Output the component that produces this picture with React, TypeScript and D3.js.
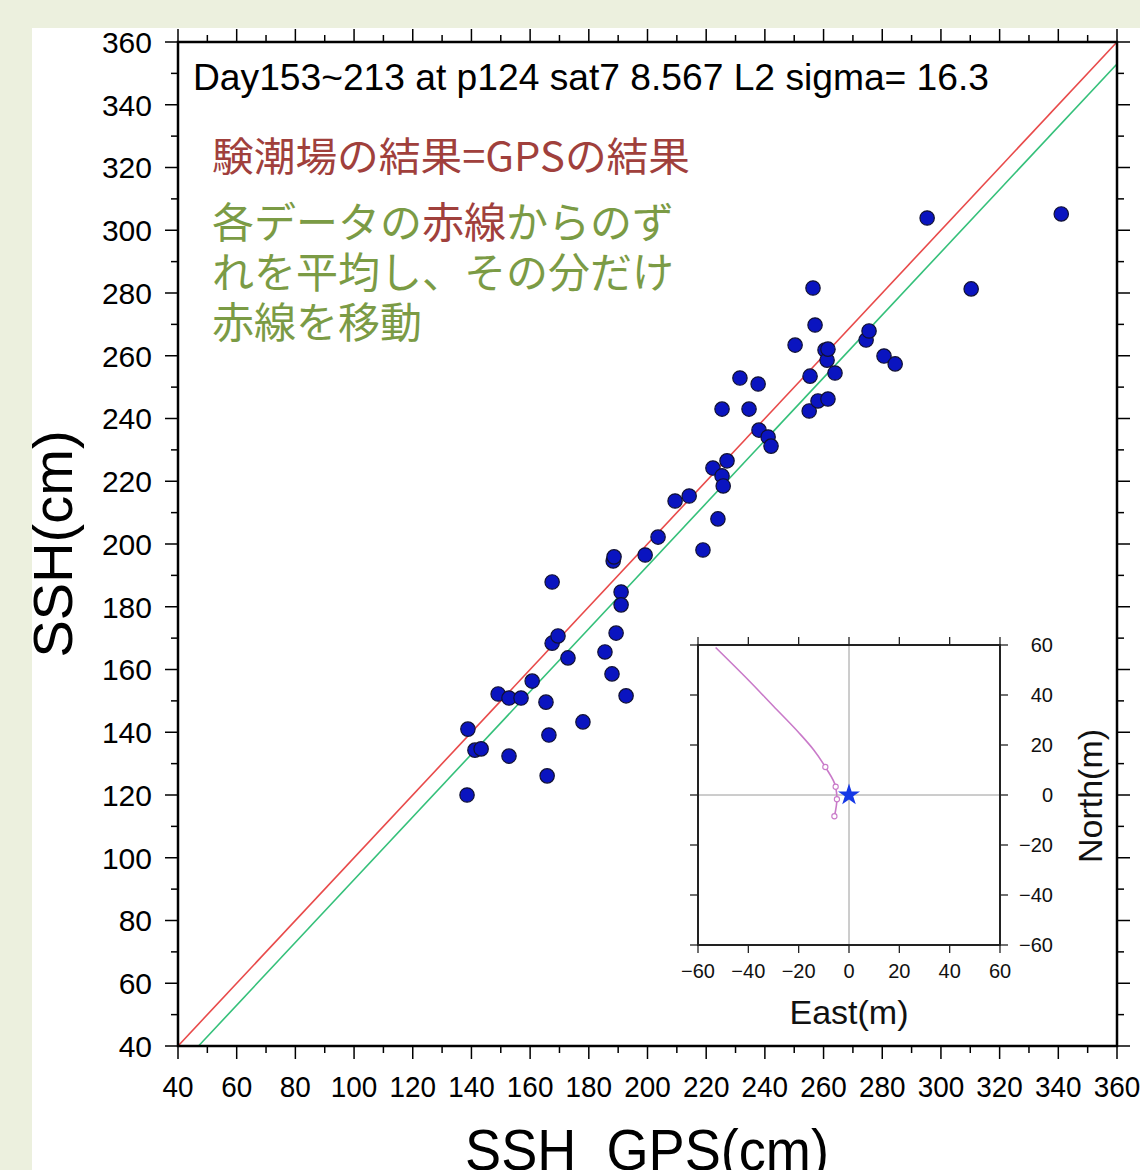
import React from 'react';
import * as d3 from 'd3';

// SSH from GPS (x) against SSH from the tide gauge (y), both in cm
const gpsSSH = [
  138.8, 138.5, 141.2, 143.3, 149.1, 152.8, 156.9, 152.8, 160.7, 165.4,
  166.4, 165.8, 167.5, 167.5, 169.5, 172.9, 178.0, 185.5, 187.9, 189.3,
  188.3, 188.6, 191.0, 191.0, 192.7, 199.2, 203.6, 209.4, 214.2, 218.9,
  222.3, 224.0, 225.4, 225.4, 225.8, 227.1, 231.5, 234.6, 237.7, 238.0,
  241.1, 242.1, 250.3, 255.4, 255.1, 256.4, 257.1, 258.1, 260.5, 261.2,
  261.5, 261.5, 263.9, 274.5, 275.5, 280.6, 284.4, 295.3, 310.3, 341.0,
];
const tideSSH = [
  141.0, 120.0, 134.3, 134.7, 152.2, 150.9, 150.9, 132.4, 156.3, 149.6,
  139.1, 126.1, 187.9, 168.4, 170.7, 163.7, 143.3, 165.6, 158.6, 171.6,
  194.6, 195.9, 184.7, 180.6, 151.6, 196.5, 202.2, 213.7, 215.3, 198.1,
  224.2, 208.0, 243.0, 221.7, 218.5, 226.5, 252.9, 243.0, 251.0, 236.3,
  234.1, 231.2, 263.4, 253.5, 242.4, 281.6, 269.8, 245.6, 261.8, 258.6,
  246.2, 262.1, 254.5, 265.0, 267.9, 259.9, 257.4, 303.9, 281.3, 305.2,
];
const meanOffset = -7; // green line: red 1:1 line shifted by the mean residual

// inset: GPS buoy track relative to the station (m)
const trackEast = [-53, -40, -30, -20, -14, -9.4, -5.3, -4.8, -5.8];
const trackNorth = [59, 46, 35.5, 25, 18, 11.2, 3.3, -1.7, -8.5];
const markedFrom = 5; // open circles on the last samples

const mainTicks = d3.range(40, 361, 20);
const mainMinor = d3.range(40, 361, 10);
const insetTicks = [-60, -40, -20, 0, 20, 40, 60];

const titleText = 'Day153~213 at p124 sat7 8.567 L2 sigma= 16.3';
const redNote = '験潮場の結果=GPSの結果';
const greenLines = [
  [['各データの', 'g'], ['赤線', 'r'], ['からのず', 'g']],
  [['れを平均し、その分だけ', 'g']],
  [['赤線を移動', 'g']],
];

const W = 1140;
const H = 1170;
const font = '"Liberation Sans", Arial, Helvetica, sans-serif';
const jpFont = '"Noto Sans CJK JP", "Noto Sans", sans-serif';
const RED = '#a0403c';
const GREEN = '#7b9b45';

export default function App() {
  const x = d3.scaleLinear().domain([40, 360]).range([178, 1117]);
  const y = d3.scaleLinear().domain([40, 360]).range([1046, 42]);

  const ix = d3.scaleLinear().domain([-60, 60]).range([698, 1000]);
  const iy = d3.scaleLinear().domain([-60, 60]).range([945, 645]);

  const track = d3.line<number>()
    .x((_, i) => ix(trackEast[i]))
    .y((_, i) => iy(trackNorth[i]))
    .curve(d3.curveMonotoneY);

  const star = d3.symbol().type(d3.symbolStar).size(150)();

  const greenStart = 40 - meanOffset;

  return (
    <svg width={W} height={H} style={{ position: 'absolute', left: 0, top: 0, display: 'block' }}>
      <rect x={0} y={0} width={W} height={H} fill="#ecf0de" />
      <rect x={32} y={28} width={W - 32} height={H - 28} fill="#ffffff" />

      {/* 1:1 line and shifted line */}
      <line x1={x(40)} y1={y(40)} x2={x(360)} y2={y(360)} stroke="#e84a4a" strokeWidth={1.6} />
      <line x1={x(greenStart)} y1={y(40)} x2={x(360)} y2={y(360 + meanOffset)} stroke="#34c07a" strokeWidth={1.6} />

      {/* points */}
      {gpsSSH.map((g, i) => (
        <circle key={i} cx={x(g)} cy={y(tideSSH[i])} r={7.2} fill="#0a14c0" stroke="#111133" strokeWidth={1.2} />
      ))}

      {/* frame */}
      <rect x={x(40)} y={y(360)} width={x(360) - x(40)} height={y(40) - y(360)} fill="none" stroke="#000" strokeWidth={2.5} />

      {/* ticks */}
      {mainMinor.map(v => {
        const major = v % 20 === 0;
        const len = major ? 13 : 7;
        return (
          <g key={v} stroke="#000" strokeWidth={1.5}>
            <line x1={x(40)} x2={x(40) - len} y1={y(v)} y2={y(v)} />
            <line x1={x(360)} x2={x(360) + len} y1={y(v)} y2={y(v)} />
            <line x1={x(v)} x2={x(v)} y1={y(40)} y2={y(40) + len} />
            <line x1={x(v)} x2={x(v)} y1={y(360)} y2={y(360) - len} />
          </g>
        );
      })}
      {mainTicks.map(v => (
        <text key={'y' + v} x={152} y={y(v)} dy="0.36em" textAnchor="end" fontFamily={font} fontSize={30} fill="#000">{v}</text>
      ))}
      {mainTicks.map(v => (
        <text key={'x' + v} x={x(v)} y={1097} textAnchor="middle" fontFamily={font} fontSize={30} fill="#000"
          transform={`translate(${x(v)},0) scale(0.93,1) translate(${-x(v)},0)`}>{v}</text>
      ))}

      <text x={647} y={1170} textAnchor="middle" fontFamily={font} fontSize={57} fill="#000"
        transform="translate(647,0) scale(0.95,1) translate(-647,0)">{'SSH\u00a0\u00a0GPS(cm)'}</text>
      <text transform="translate(72,544) rotate(-90)" textAnchor="middle" fontFamily={font} fontSize={56} fill="#000">SSH(cm)</text>

      {/* annotations */}
      <text x={193} y={90} fontFamily={font} fontSize={36} fill="#000" textLength={796} lengthAdjust="spacingAndGlyphs">{titleText}</text>
      <text x={212} y={171} fontFamily={jpFont} fontSize={40} fill={RED} textLength={478} lengthAdjust="spacingAndGlyphs">{redNote}</text>
      {greenLines.map((parts, li) => (
        <text key={li} x={212} y={238 + li * 50} fontFamily={jpFont} fontSize={42}>
          {parts.map(([t, c], pi) => (
            <tspan key={pi} fill={c === 'r' ? RED : GREEN}>{t}</tspan>
          ))}
        </text>
      ))}

      {/* inset */}
      <rect x={ix(-60)} y={iy(60)} width={ix(60) - ix(-60)} height={iy(-60) - iy(60)} fill="#fff" />
      <line x1={ix(0)} x2={ix(0)} y1={iy(60)} y2={iy(-60)} stroke="#9a9a9a" strokeWidth={1} />
      <line x1={ix(-60)} x2={ix(60)} y1={iy(0)} y2={iy(0)} stroke="#9a9a9a" strokeWidth={1} />
      <path d={track(trackEast) ?? ''} fill="none" stroke="#c97ac9" strokeWidth={1.6} />
      {trackEast.slice(markedFrom).map((e, i) => (
        <circle key={i} cx={ix(e)} cy={iy(trackNorth[markedFrom + i])} r={2.6} fill="#fff" stroke="#c97ac9" strokeWidth={1.1} />
      ))}
      <path d={star ?? ''} transform={`translate(${ix(0)},${iy(0)})`} fill="#1538e6" />
      <rect x={ix(-60)} y={iy(60)} width={ix(60) - ix(-60)} height={iy(-60) - iy(60)} fill="none" stroke="#222" strokeWidth={2} />
      {insetTicks.map(v => (
        <g key={v} stroke="#222" strokeWidth={1.3}>
          <line x1={ix(v)} x2={ix(v)} y1={iy(-60)} y2={iy(-60) + 8} />
          <line x1={ix(v)} x2={ix(v)} y1={iy(60)} y2={iy(60) - 8} />
          <line x1={ix(-60)} x2={ix(-60) - 8} y1={iy(v)} y2={iy(v)} />
          <line x1={ix(60)} x2={ix(60) + 8} y1={iy(v)} y2={iy(v)} />
        </g>
      ))}
      {insetTicks.map(v => (
        <text key={'ix' + v} x={ix(v)} y={978} textAnchor="middle" fontFamily={font} fontSize={20} fill="#111">
          {v < 0 ? '\u2212' + Math.abs(v) : v}
        </text>
      ))}
      {insetTicks.map(v => (
        <text key={'iy' + v} x={1053} y={iy(v)} dy="0.36em" textAnchor="end" fontFamily={font} fontSize={20} fill="#111">
          {v < 0 ? '\u2212' + Math.abs(v) : v}
        </text>
      ))}
      <text x={849} y={1024} textAnchor="middle" fontFamily={font} fontSize={34} fill="#111">East(m)</text>
      <text transform="translate(1102,796) rotate(-90)" textAnchor="middle" fontFamily={font} fontSize={34} fill="#111">North(m)</text>
    </svg>
  );
}
